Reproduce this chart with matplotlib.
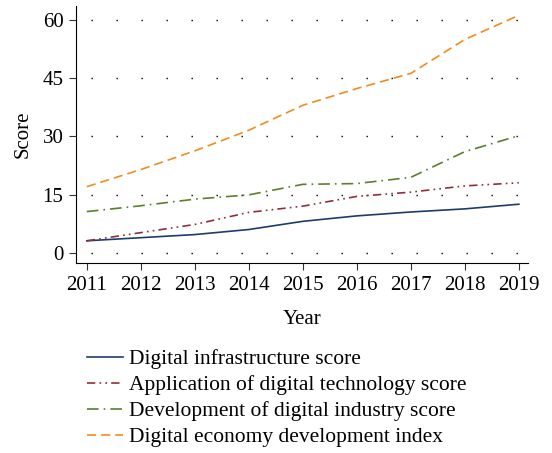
import numpy as np
import matplotlib.pyplot as plt

years = [2011, 2012, 2013, 2014, 2015, 2016, 2017, 2018, 2019]
infrastructure = [3.2, 4.0, 4.8, 6.1, 8.2, 9.6, 10.6, 11.4, 12.6]
technology = [3.2, 5.3, 7.4, 10.5, 12.1, 14.6, 15.7, 17.3, 18.1]
industry = [10.7, 12.2, 13.9, 15.0, 17.7, 17.9, 19.5, 26.1, 30.2]
economy = [17.1, 21.5, 26.3, 31.6, 38.0, 42.3, 46.2, 54.9, 61.1]
yticks = [0, 15, 30, 45, 60]

plt.rcParams['font.family'] = ['Liberation Serif', 'DejaVu Serif']

fig = plt.figure(figsize=(5.52, 4.53), dpi=100)
ax = fig.add_axes([76/552, 1 - 263/453, (528 - 76)/552, (263 - 6)/453])

for y in yticks:
    ax.plot([2011.07, 2019.13], [y, y], color='black', lw=1.0, linestyle=(0, (1, 17)), zorder=1)

ax.plot(years, infrastructure, color='#1c3d6b', lw=1.2, label='Digital infrastructure score')
ax.plot(years, technology, color='#8e2f3c', lw=1.2, linestyle=(0, (5, 2.5, 1, 2.5, 1, 2.5)),
        label='Application of digital technology score')
ax.plot(years, industry, color='#5b7f2c', lw=1.2, linestyle=(0, (7, 3, 1, 3)),
        label='Development of digital industry score')
ax.plot(years, economy, color='#f28c1e', lw=1.2, linestyle=(0, (5.5, 3)),
        label='Digital economy development index')

ax.set_xlim(2010.8, 2019.17)
ax.set_ylim(-2.5, 63.5)
ax.set_xticks(years)
ax.set_yticks(yticks)
ax.tick_params(labelsize=15, length=5, width=0.8, color='#333333', pad=4)
ax.spines['top'].set_visible(False)
ax.spines['right'].set_visible(False)
ax.set_xlabel('Year', fontsize=15, labelpad=11)
ax.set_ylabel('Score', fontsize=15, labelpad=7)

fig.legend(loc='upper left', bbox_to_anchor=(72/552, 1 - 334/453), frameon=False,
           fontsize=15.5, handlelength=1.65, handletextpad=0.3, labelspacing=0.28,
           borderpad=0.2)

fig.savefig('out.png', dpi=100)
